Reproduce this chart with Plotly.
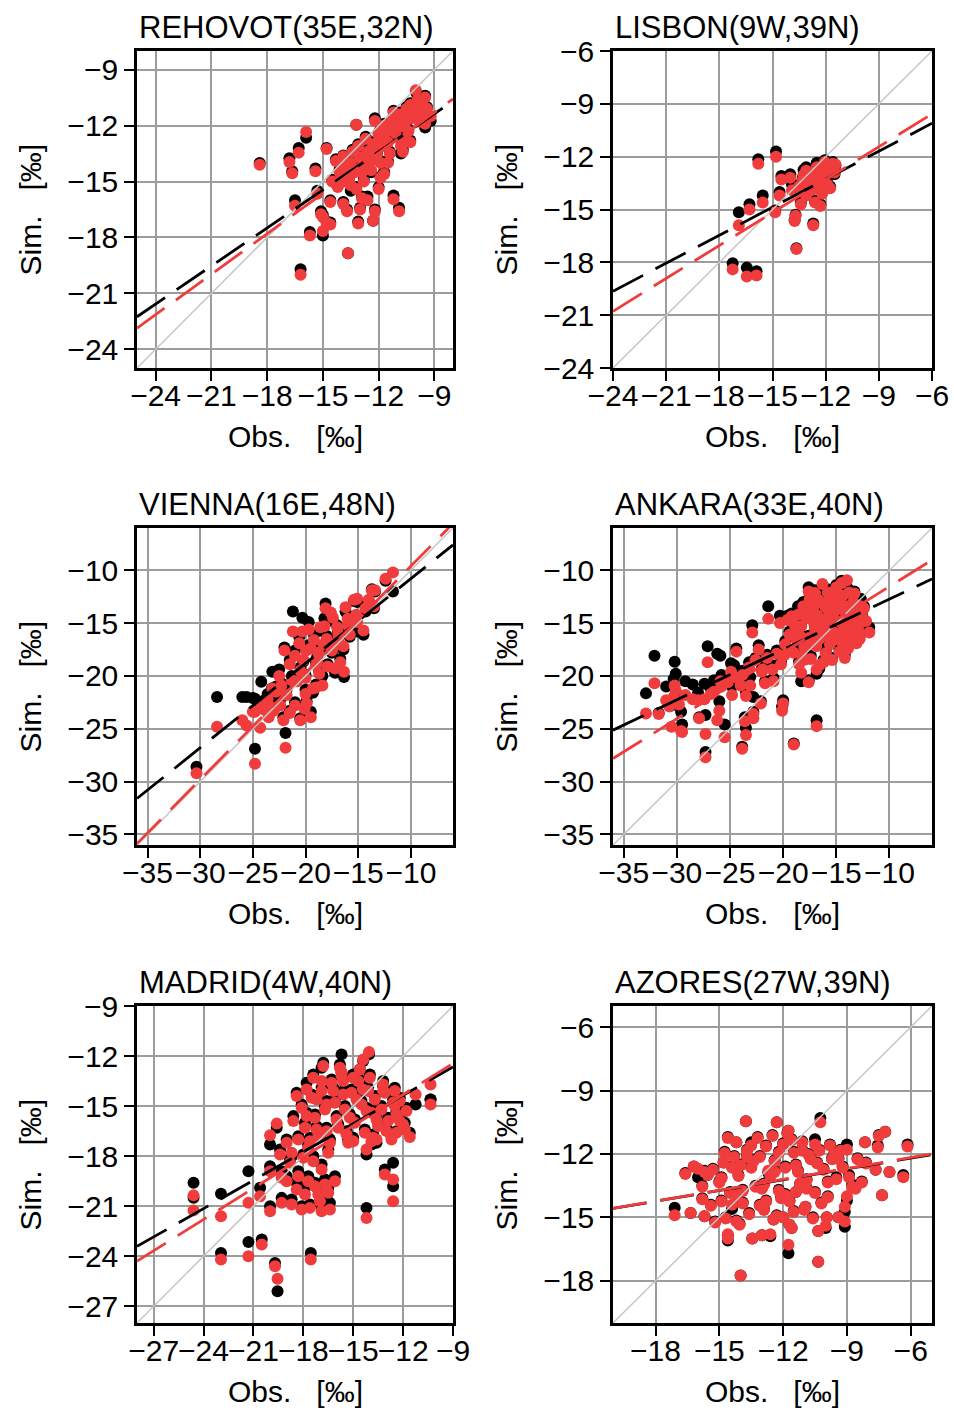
import plotly.graph_objects as go

# ---------------- data (per mille) ----------------
# Observed value and the two simulated values (black, red) for every sample.

rehovot_obs = [
    -18.4, -15.9, -16.3, -16.8, -16.65, -14.8, -15.4, -16.5, -15.7, -15.0,
    -16.2, -13.65, -15.1, -14.8, -13.1, -12.3, -12.2, -13.0, -12.6, -11.2,
    -10.9, -10.8, -10.3, -9.2, -10.0, -13.2, -12.2, -11.9, -13.9, -14.1,
    -15.3, -13.5, -13.9, -15.0, -14.6, -14.5, -14.2, -14.0, -13.8, -13.6,
    -13.5, -13.3, -13.2, -13.0, -12.9, -12.8, -12.6, -12.5, -12.4, -12.3,
    -12.1, -12.0, -11.9, -11.8, -11.6, -11.5, -11.4, -11.3, -11.1, -11.0,
    -10.9, -10.8, -10.6, -10.5, -10.4, -10.3, -10.2, -10.0, -9.9, -9.8,
    -9.7, -9.6, -9.5, -9.4, -9.5, -14.3, -13.4, -12.7, -11.7, -11.2,
    -12.9, -11.7, -10.7, -13.7, -14.6, -12.0,
    -13.9, -13.1, -12.7, -12.2, -11.7, -11.3, -10.9, -10.4, -10.1, -9.8,
    -12.9, -12.4, -11.9, -11.5, -10.6]
rehovot_sim_black = [
    -14.0, -12.65, -13.2, -13.75, -14.45, -13.2, -14.3, -16.0, -17.7, -17.9,
    -19.7, -18.85, -16.6, -17.15, -17.15, -17.1, -16.5, -16.4, -15.8, -15.75,
    -16.4, -13.5, -12.8, -11.75, -10.2, -11.95, -11.6, -14.75, -13.6, -14.35,
    -15.5, -15.5, -16.1, -16.8, -17.2, -14.9, -15.2, -14.6, -14.1, -14.8,
    -13.9, -14.4, -15.3, -13.6, -14.1, -14.9, -13.3, -13.9, -14.5, -12.9,
    -13.5, -12.4, -13.9, -13.0, -12.2, -12.8, -13.4, -11.7, -12.5, -12.0,
    -11.3, -12.7, -11.8, -11.0, -12.2, -10.8, -11.5, -11.0, -10.5, -11.7,
    -10.9, -11.3, -10.4, -11.0, -12.1, -13.8, -13.3, -12.6, -11.9, -11.2,
    -15.8, -14.5, -13.3, -16.5, -16.0, -15.3,
    -14.9, -13.0, -13.8, -12.9, -12.5, -12.1, -11.9, -11.4, -10.9, -10.6,
    -14.4, -13.2, -12.2, -13.9, -12.6]
rehovot_sim_red = [
    -14.1, -12.35, -13.45, -13.95, -14.55, -13.25, -14.45, -16.3, -17.9, -17.65,
    -20.0, -18.85, -16.75, -17.2, -17.25, -17.1, -16.6, -16.5, -16.0, -15.95,
    -16.6, -13.1, -12.9, -11.5, -10.1, -11.95, -11.75, -14.8, -13.65, -14.5,
    -15.65, -15.2, -16.2, -16.9, -17.3, -15.0, -15.3, -14.7, -14.2, -14.9,
    -14.0, -14.5, -15.4, -13.7, -14.2, -15.0, -13.4, -14.0, -14.4, -13.0,
    -13.6, -12.5, -14.0, -13.1, -12.3, -12.9, -13.5, -11.8, -12.4, -12.1,
    -11.4, -12.8, -11.9, -11.1, -12.3, -10.9, -11.6, -11.2, -10.6, -11.8,
    -11.0, -11.4, -10.5, -11.1, -11.9, -13.9, -13.4, -12.7, -12.0, -11.3,
    -15.9, -14.6, -13.4, -16.6, -16.1, -15.4,
    -15.0, -13.1, -13.9, -13.0, -12.6, -12.2, -12.0, -11.5, -11.0, -10.7,
    -14.5, -13.3, -12.3, -14.0, -12.7]

lisbon_obs = [
    -14.8, -15.8, -16.9, -16.3, -15.55, -14.5, -14.6, -14.85, -13.25, -12.5,
    -13.7, -13.75, -12.7, -13.65, -17.25, -16.45, -15.9, -13.5, -13.3, -13.1,
    -13.0, -12.9, -12.8, -12.7, -12.6, -12.5, -12.4, -12.3, -12.2, -12.1,
    -12.0, -11.9, -11.8, -11.75, -11.6, -11.5, -11.45, -12.3, -13.9, -13.4,
    -14.0, -12.05, -13.1]
lisbon_sim_black = [
    -11.7, -12.15, -15.15, -14.7, -14.2, -13.1, -14.0, -15.05, -12.75, -12.35,
    -15.3, -15.6, -15.8, -17.2, -18.05, -18.3, -18.5, -13.6, -13.2, -14.1,
    -13.4, -12.9, -13.8, -13.2, -14.5, -12.9, -13.6, -12.5, -14.0, -13.1,
    -12.4, -13.5, -12.8, -13.7, -12.3, -13.0, -12.5, -14.7, -13.6, -14.6,
    -13.0, -12.2, -12.6]
lisbon_sim_red = [
    -12.0, -12.4, -15.9, -15.0, -14.6, -13.3, -14.2, -15.15, -13.05, -12.6,
    -15.35, -15.65, -15.9, -17.25, -18.4, -18.8, -18.75, -13.7, -13.35, -14.2,
    -13.5, -13.0, -13.9, -13.35, -14.6, -13.0, -13.7, -12.6, -14.1, -13.2,
    -12.5, -13.6, -12.9, -13.8, -12.4, -12.9, -12.45, -14.8, -13.9, -14.7,
    -13.2, -12.3, -12.8]

vienna_obs = [
    -30.35, -28.4, -25.6, -24.8, -23.9, -24.2, -23.15, -24.8, -24.3, -22.0,
    -21.9, -22.1, -21.2, -20.3, -19.95, -19.5, -18.1, -18.2, -17.4, -17.0,
    -16.0, -15.4, -15.1, -14.0, -13.4, -11.7, -13.5, -14.5, -15.1, -16.35,
    -16.7, -18.9, -18.4, -18.8, -19.5, -20.1, -20.8, -20.5, -20.2, -21.8,
    -22.8, -22.3, -21.0, -21.5, -20.5, -19.9, -19.3, -18.7, -17.9, -17.5,
    -17.8, -16.9, -16.4, -15.8, -15.2, -14.3, -13.7, -12.4, -18.6, -19.2,
    -21.5, -22.5, -23.6, -25.0, -26.0, -23.0, -20.0, -19.0, -17.2, -16.9,
    -18.3, -21.0, -20.6, -17.6, -16.2, -19.7, -23.5,
    -21.3, -20.0, -19.0, -18.0, -17.0, -16.0, -22.4, -23.2]
vienna_sim_black = [
    -28.6, -22.0, -22.0, -22.15, -22.3, -20.55, -19.6, -26.9, -22.9, -17.3,
    -25.4, -23.9, -13.9, -14.5, -17.2, -17.0, -13.15, -14.55, -14.8, -15.2,
    -15.5, -12.9, -13.0, -12.9, -12.0, -12.0, -13.6, -16.1, -15.8, -20.1,
    -18.4, -18.2, -20.0, -17.5, -23.4, -22.9, -20.3, -19.2, -18.6, -21.3,
    -21.0, -20.7, -22.5, -23.3, -24.0, -22.4, -21.6, -19.5, -18.9, -17.8,
    -16.6, -16.8, -17.5, -16.3, -14.8, -13.9, -11.8, -11.0, -15.7, -16.1,
    -18.5, -19.4, -21.7, -22.1, -22.0, -22.5, -19.9, -20.8, -19.7, -15.8,
    -17.3, -17.6, -16.3, -14.2, -13.9, -14.9, -23.5,
    -20.0, -21.3, -18.7, -16.2, -16.2, -14.3, -22.2, -21.2]
vienna_sim_red = [
    -29.2, -24.8, -24.7, -23.4, -23.2, -22.9, -21.2, -28.3, -24.9, -17.6,
    -26.8, -24.2, -15.8, -15.8, -17.6, -17.4, -13.6, -15.3, -14.5, -15.4,
    -15.2, -12.8, -12.7, -12.8, -11.9, -10.2, -13.4, -15.7, -14.9, -19.6,
    -18.7, -18.6, -20.9, -17.8, -23.9, -23.1, -20.5, -19.5, -18.5, -21.8,
    -21.5, -20.9, -22.8, -23.5, -24.2, -22.6, -21.2, -19.8, -19.1, -17.6,
    -16.9, -16.6, -17.2, -16.1, -14.2, -13.6, -11.9, -10.8, -15.4, -16.6,
    -18.9, -20.0, -22.2, -23.4, -24.2, -23.3, -20.2, -21.1, -19.3, -16.0,
    -17.0, -18.1, -16.9, -14.0, -13.5, -15.6, -23.9,
    -20.4, -21.7, -19.0, -16.5, -17.0, -14.6, -22.8, -23.0]

ankara_obs = [
    -32.1, -32.9, -30.2, -30.1, -30.3, -31.7, -29.6, -29.8, -30.7, -28.5,
    -27.4, -27.9, -27.3, -27.3, -27.1, -26.2, -25.9, -25.5, -24.9, -23.85,
    -23.5, -23.6, -22.9, -24.4, -23.8, -22.8, -22.8, -22.3, -22.1, -21.4,
    -20.3, -20.0, -20.1, -19.0, -18.6, -17.6, -16.85, -17.6, -18.3, -16.85,
    -11.9, -12.7, -14.0, -13.1, -14.5, -16.7, -14.9, -26.5, -25.8, -25.2,
    -24.6, -24.0, -23.2, -22.6, -22.0, -21.5, -21.0, -20.6, -20.2, -19.8,
    -21.7, -23.5, -26.8, -28.0, -29.2, -31.0, -19.4, -19.0, -18.8, -18.5,
    -18.3, -18.0, -17.8, -17.6, -17.4, -17.2, -17.0, -16.9, -16.7, -16.5,
    -16.4, -16.2, -16.0, -15.9, -15.8, -15.6, -15.5, -15.3, -15.2, -15.0,
    -14.9, -14.7, -14.6, -14.4, -14.3, -14.1, -14.0, -13.8, -13.7, -13.5,
    -13.4, -13.2, -13.1, -12.9, -12.6, -12.4, -12.2, -16.3, -17.5, -18.1,
    -19.6, -18.9, -16.6, -15.4, -14.2, -15.7, -17.1, -14.8, -13.9, -16.1,
    -15.1, -14.5, -13.3, -12.8, -29.5, -30.5,
    -19.2, -18.7, -18.2, -17.7, -17.3, -16.8, -16.3, -15.8, -15.3, -14.8,
    -14.3, -13.8, -13.3, -12.8, -19.9, -18.4, -17.0, -15.6, -14.1, -16.6,
    -15.1, -13.6, -17.9, -16.0, -14.6, -24.8, -23.1, -21.9, -20.9, -26.0]
ankara_sim_black = [
    -18.1, -21.65, -18.65, -19.8, -20.3, -23.5, -23.4, -21.9, -22.4, -20.8,
    -20.75, -23.9, -23.7, -27.2, -17.2, -17.9, -18.1, -24.6, -18.8, -26.7,
    -24.9, -23.9, -15.2, -17.4, -19.5, -22.0, -23.4, -17.1, -22.4, -13.4,
    -14.3, -22.3, -22.9, -26.4, -13.4, -11.6, -19.8, -20.4, -20.5, -24.2,
    -15.4, -12.7, -11.6, -16.8, -16.4, -17.1, -15.8, -20.4, -19.9, -20.3,
    -19.0, -20.6, -18.7, -18.3, -19.3, -18.0, -19.0, -17.6, -18.6, -16.7,
    -20.5, -21.5, -21.2, -21.6, -20.5, -21.0, -15.8, -17.5, -16.2, -18.6,
    -15.0, -17.0, -14.2, -16.2, -18.1, -13.3, -15.3, -17.0, -12.5, -14.4,
    -16.1, -18.5, -13.2, -15.0, -11.8, -16.8, -14.0, -12.7, -15.7, -11.4,
    -13.5, -17.5, -14.7, -12.2, -16.0, -13.2, -15.0, -11.9, -14.0, -16.6,
    -12.8, -14.8, -13.6, -15.6, -14.2, -13.4, -15.0, -11.5, -12.4, -13.0,
    -14.3, -14.8, -19.3, -18.3, -18.0, -13.6, -14.8, -12.1, -17.2, -15.9,
    -14.5, -11.0, -12.0, -16.2, -24.6, -22.8,
    -14.1, -15.6, -17.9, -13.8, -16.7, -14.0, -12.9, -14.6, -16.3, -12.9,
    -15.4, -13.6, -15.8, -14.8, -17.8, -16.0, -11.9, -12.4, -13.8, -15.2,
    -11.9, -15.2, -18.2, -17.6, -15.9, -21.0, -20.1, -18.9, -20.2, -22.4]
ankara_sim_red = [
    -20.7, -23.55, -20.9, -21.4, -22.0, -23.6, -25.2, -22.7, -22.9, -22.2,
    -22.2, -24.0, -25.5, -27.7, -18.7, -24.2, -20.5, -25.8, -19.6, -26.9,
    -25.6, -24.3, -15.9, -17.7, -19.9, -23.6, -24.0, -17.5, -22.6, -14.6,
    -15.0, -22.6, -23.3, -26.5, -14.2, -12.0, -19.4, -20.6, -19.7, -24.75,
    -15.9, -13.4, -10.95, -16.9, -16.8, -16.6, -16.0, -21.5, -21.0, -20.6,
    -20.1, -20.9, -19.2, -18.5, -19.6, -18.3, -19.4, -17.9, -18.9, -17.0,
    -20.7, -21.9, -21.7, -22.3, -21.8, -22.3, -16.1, -17.8, -16.5, -18.9,
    -15.3, -17.3, -14.5, -16.4, -18.4, -13.6, -15.6, -17.2, -12.8, -14.6,
    -16.3, -18.7, -13.5, -15.3, -12.1, -17.0, -14.2, -12.9, -15.9, -11.6,
    -13.7, -17.7, -14.9, -12.4, -16.2, -13.4, -15.2, -12.1, -14.2, -16.8,
    -13.0, -15.0, -13.8, -15.8, -14.4, -13.6, -14.8, -11.3, -12.7, -13.4,
    -14.7, -15.2, -19.0, -18.5, -18.3, -13.9, -15.0, -12.3, -17.4, -16.1,
    -14.7, -11.2, -12.2, -16.5, -25.3, -24.8,
    -14.35, -15.85, -18.15, -14.05, -16.95, -14.25, -13.15, -14.85, -16.55, -13.15,
    -15.65, -13.85, -16.05, -15.05, -18.05, -16.25, -12.15, -12.65, -14.05, -15.45,
    -12.15, -15.45, -18.45, -17.85, -16.15, -21.8, -20.9, -19.4, -20.5, -23.3]

madrid_obs = [
    -24.6, -24.6, -22.95, -22.95, -21.3, -21.3, -20.5, -20.6, -20.0, -20.0,
    -19.7, -19.55, -20.0, -19.6, -19.3, -19.3, -17.55, -16.9, -17.2, -15.7,
    -14.05, -15.6, -13.2, -14.6, -14.2, -12.6, -12.6, -13.1, -11.25, -10.35,
    -10.35, -11.6, -12.4, -12.5, -13.6, -14.2, -16.9, -16.6, -18.6, -18.3,
    -18.1, -17.9, -17.7, -17.5, -17.3, -17.1, -16.9, -16.7, -16.5, -16.3,
    -16.1, -15.9, -15.7, -15.5, -15.3, -15.1, -14.9, -14.7, -14.5, -14.3,
    -14.1, -13.9, -13.7, -13.5, -13.3, -13.1, -12.9, -12.7, -12.4, -12.2,
    -12.0, -15.8, -14.4, -16.6, -17.8, -15.0, -13.9, -19.0, -18.7, -18.4,
    -18.1, -17.9, -17.6, -17.3, -17.0, -16.7, -16.4, -16.9, -18.8, -17.4,
    -16.1, -19.4, -19.0, -18.7, -12.2, -11.8, -11.9,
    -18.4, -17.8, -17.2, -16.6, -16.0, -15.4, -14.8, -14.2, -13.6, -13.0,
    -12.5, -18.0, -17.4, -16.8, -16.2, -15.6, -15.0, -14.4, -13.8, -13.2,
    -12.6, -16.4, -15.2, -14.0, -17.6, -18.3, -17.7, -17.1, -16.5]
madrid_sim_black = [
    -19.6, -20.5, -20.25, -23.8, -18.9, -23.15, -23.0, -19.9, -18.6, -21.0,
    -24.4, -26.1, -17.3, -16.3, -18.9, -20.5, -23.8, -12.7, -14.5, -11.9,
    -11.9, -13.3, -13.8, -12.8, -21.1, -18.4, -19.8, -18.8, -14.9, -14.6,
    -14.6, -16.6, -16.5, -14.8, -17.2, -17.9, -21.0, -20.3, -15.6, -16.8,
    -14.9, -16.0, -17.3, -14.3, -15.5, -16.6, -13.9, -15.0, -17.6, -13.4,
    -14.6, -16.1, -13.0, -15.0, -17.0, -14.0, -15.8, -13.3, -14.7, -16.4,
    -13.9, -15.2, -14.4, -16.0, -15.0, -14.0, -15.7, -16.8, -15.3, -14.5,
    -16.0, -12.5, -12.3, -16.3, -13.6, -16.9, -17.3, -19.2, -20.6, -19.6,
    -21.0, -19.9, -20.9, -19.6, -20.5, -19.4, -20.8, -18.5, -18.2, -18.0,
    -19.2, -17.6, -17.0, -18.0, -15.6, -15.1, -16.0,
    -14.2, -15.4, -16.2, -14.7, -15.6, -16.5, -14.4, -15.1, -15.6, -16.3,
    -13.9, -17.9, -13.1, -12.4, -13.9, -14.1, -13.1, -13.8, -16.7, -13.5,
    -14.6, -17.0, -15.5, -13.1, -16.9, -18.9, -19.2, -20.0, -19.9]
madrid_sim_red = [
    -20.35, -21.25, -21.6, -24.2, -20.8, -24.0, -23.3, -20.4, -18.9, -21.3,
    -24.6, -25.35, -16.75, -16.05, -19.3, -20.8, -24.2, -13.5, -14.6, -13.0,
    -11.75, -13.5, -14.1, -12.8, -21.7, -19.4, -20.7, -19.1, -14.3, -13.7,
    -14.9, -16.85, -16.6, -15.0, -17.0, -17.6, -21.3, -20.0, -15.9, -17.0,
    -15.1, -16.3, -17.5, -14.5, -15.7, -16.8, -14.1, -15.2, -17.8, -13.6,
    -14.8, -16.3, -13.2, -15.2, -17.2, -14.2, -16.0, -13.5, -14.9, -16.6,
    -14.1, -15.4, -14.6, -16.2, -15.2, -14.2, -15.9, -17.0, -15.5, -14.7,
    -16.1, -12.7, -12.2, -16.5, -14.0, -17.1, -17.1, -19.5, -20.9, -20.0,
    -21.2, -20.3, -21.1, -19.8, -20.7, -19.7, -21.2, -18.8, -18.4, -18.3,
    -19.5, -17.9, -17.2, -17.8, -15.9, -15.3, -16.4,
    -14.4, -15.6, -16.4, -14.9, -15.8, -16.7, -14.6, -15.3, -15.8, -16.5,
    -14.1, -18.1, -13.3, -12.6, -14.1, -14.3, -13.3, -14.0, -16.9, -13.7,
    -14.8, -17.2, -15.7, -13.3, -17.1, -19.2, -19.5, -20.3, -20.2]

azores_obs = [
    -13.75, -12.3, -10.25, -11.75, -7.2, -7.5, -8.15, -7.55, -6.15, -14.2,
    -13.5, -14.75, -10.5, -9.0, -9.8, -9.3, -9.6, -16.0, -15.55, -16.2,
    -15.7, -17.1, -16.35, -15.7, -15.2, -14.7, -14.2, -14.05, -14.6, -14.6,
    -14.0, -13.45, -13.0, -12.6, -12.45, -11.7, -11.75, -11.6, -10.95, -10.35,
    -10.35, -10.0, -9.95, -9.1, -9.1, -9.4, -8.75, -7.35, -7.65, -7.0,
    -6.35, -8.1, -12.1, -11.4, -11.2, -15.0, -14.8, -14.5, -14.3, -14.1,
    -13.9, -13.7, -13.5, -13.3, -13.1, -12.9, -12.8, -12.6, -12.4, -12.2,
    -12.0, -11.9, -11.7, -11.5, -11.3, -11.1, -10.9, -10.7, -10.5, -10.3,
    -10.1, -9.9, -9.7, -9.5, -9.2, -8.9, -13.6, -12.3, -14.9, -13.2,
    -11.8, -12.7, -11.0, -10.2, -8.5, -8.3, -15.4, -15.8, -14.4, -12.0,
    -11.5, -13.0, -10.8, -12.5, -14.0, -9.0,
    -15.3, -14.9, -14.4, -13.9, -13.4, -12.9, -12.4, -11.9, -11.4, -10.9,
    -10.4, -9.9, -14.6, -13.1, -11.6, -10.6, -15.8, -16.6, -12.2, -13.7,
    -11.1, -9.4, -8.6, -12.8, -14.2]
azores_sim_black = [
    -10.45, -10.5, -10.3, -10.9, -10.95, -11.1, -11.45, -11.6, -11.55, -11.45,
    -11.45, -11.9, -11.3, -11.55, -11.55, -11.8, -12.0, -13.1, -13.0, -12.6,
    -12.8, -14.55, -14.8, -14.95, -15.2, -15.0, -15.15, -15.3, -16.1, -15.85,
    -17.75, -16.0, -15.85, -15.9, -15.1, -15.35, -16.7, -15.5, -14.5, -17.1,
    -15.65, -15.5, -15.0, -14.75, -15.45, -15.0, -13.45, -13.95, -12.75, -12.85,
    -13.0, -12.4, -14.0, -13.8, -13.4, -13.3, -12.4, -13.8, -12.1, -13.0,
    -14.3, -11.8, -12.6, -13.5, -12.1, -14.6, -11.6, -13.0, -12.3, -13.7,
    -11.5, -12.6, -14.2, -11.9, -12.8, -11.4, -13.2, -12.2, -13.8, -11.8,
    -12.7, -13.3, -12.2, -13.1, -12.6, -13.0, -14.8, -14.9, -14.2, -11.2,
    -11.0, -12.9, -14.6, -14.3, -12.2, -13.3, -14.4, -14.1, -14.6, -15.0,
    -14.7, -13.6, -12.0, -11.1, -12.5, -14.2,
    -12.7, -13.1, -12.6, -13.7, -12.3, -13.4, -12.8, -13.9, -12.5, -13.6,
    -12.4, -14.0, -11.2, -14.4, -11.3, -15.0, -13.5, -12.9, -11.9, -12.1,
    -11.8, -12.2, -13.6, -14.2, -13.9]
azores_sim_red = [
    -10.45, -10.5, -10.5, -10.9, -10.95, -11.15, -11.45, -11.7, -11.65, -11.45,
    -11.6, -11.95, -11.55, -11.8, -11.6, -11.85, -12.05, -12.7, -13.0, -12.6,
    -12.85, -14.9, -14.8, -14.95, -15.25, -15.05, -15.2, -15.35, -16.0, -15.8,
    -17.75, -16.0, -15.85, -15.8, -15.1, -15.35, -16.3, -15.5, -14.5, -17.1,
    -15.65, -15.4, -15.0, -14.5, -15.2, -15.0, -13.55, -13.95, -12.75, -12.85,
    -13.1, -12.45, -14.1, -13.8, -13.4, -13.35, -12.4, -13.85, -12.15, -13.05,
    -14.35, -11.85, -12.65, -13.55, -12.15, -14.65, -11.65, -13.05, -12.35, -13.75,
    -11.55, -12.65, -14.25, -11.95, -12.85, -11.45, -13.25, -12.25, -13.85, -11.85,
    -12.75, -13.35, -12.25, -13.2, -12.65, -13.1, -14.85, -14.95, -14.25, -11.25,
    -11.05, -12.8, -14.65, -14.35, -12.25, -13.35, -14.45, -14.15, -14.4, -15.0,
    -14.75, -13.65, -12.05, -11.15, -12.55, -14.0,
    -12.75, -13.15, -12.65, -13.75, -12.35, -13.45, -12.85, -13.95, -12.55, -13.65,
    -12.45, -14.05, -11.25, -14.45, -11.35, -15.05, -13.55, -12.95, -11.95, -12.15,
    -11.85, -12.25, -13.65, -14.25, -13.95]

# linear fits (slope, intercept) of each simulation against the observations
rehovot_fit_black, rehovot_fit_red = (0.680, -5.25), (0.723, -4.79)
lisbon_fit_black, lisbon_fit_red = (0.530, -6.92), (0.623, -5.83)
vienna_fit_black, vienna_fit_red = (0.800, -2.80), (1.010, 0.49)
ankara_fit_black, ankara_fit_red = (0.477, -7.96), (0.626, -5.275)
madrid_fit_black, madrid_fit_red = (0.566, -7.56), (0.624, -6.82)
azores_fit_black, azores_fit_red = (0.170, -11.18), (0.172, -11.14)

# axis limits and tick values
rehovot_lim, rehovot_ticks = (-25, -8), [-24, -21, -18, -15, -12, -9]
lisbon_lim, lisbon_ticks = (-24, -6), [-24, -21, -18, -15, -12, -9, -6]
vienna_lim, vienna_ticks = (-36, -6), [-35, -30, -25, -20, -15, -10]
ankara_lim, ankara_ticks = (-36, -6), [-35, -30, -25, -20, -15, -10]
madrid_lim, madrid_ticks = (-28, -9), [-27, -24, -21, -18, -15, -12, -9]
azores_lim, azores_ticks = (-20, -5), [-18, -15, -12, -9, -6]

stations = [
    ("REHOVOT(35E,32N)", rehovot_obs, rehovot_sim_black, rehovot_sim_red,
     rehovot_fit_black, rehovot_fit_red, rehovot_lim, rehovot_ticks),
    ("LISBON(9W,39N)", lisbon_obs, lisbon_sim_black, lisbon_sim_red,
     lisbon_fit_black, lisbon_fit_red, lisbon_lim, lisbon_ticks),
    ("VIENNA(16E,48N)", vienna_obs, vienna_sim_black, vienna_sim_red,
     vienna_fit_black, vienna_fit_red, vienna_lim, vienna_ticks),
    ("ANKARA(33E,40N)", ankara_obs, ankara_sim_black, ankara_sim_red,
     ankara_fit_black, ankara_fit_red, ankara_lim, ankara_ticks),
    ("MADRID(4W,40N)", madrid_obs, madrid_sim_black, madrid_sim_red,
     madrid_fit_black, madrid_fit_red, madrid_lim, madrid_ticks),
    ("AZORES(27W,39N)", azores_obs, azores_sim_black, azores_sim_red,
     azores_fit_black, azores_fit_red, azores_lim, azores_ticks),
]

# ---------------- layout geometry (pixels) ----------------
W, H = 954, 1410
COLS = [(137, 453), (613, 932)]
ROWS = [(51, 368), (528, 845), (1006, 1323)]

FONT = "Liberation Sans, Arial, sans-serif"
RED = "#f03c3c"
GRID = "#9c9c9c"
DIAG = "#c6c6c6"
DASH = "34px,14px"
MARKER = 12


def minus(v):
    return ("\u2212%d" % -v) if v < 0 else "%d" % v


fig = go.Figure()
annotations = []
layout_axes = {}

for i, (title, obs, sb, sr, fb, fr, lim, ticks) in enumerate(stations):
    k = i + 1
    xs = "" if k == 1 else str(k)
    x0, x1 = COLS[i % 2]
    y0, y1 = ROWS[i // 2]
    xa, ya = "x" + xs, "y" + xs
    lo, hi = lim

    fig.add_trace(go.Scatter(x=obs, y=sb, mode="markers", xaxis=xa, yaxis=ya,
                             marker=dict(size=MARKER, color="black", line=dict(width=0)),
                             showlegend=False, hoverinfo="skip"))
    fig.add_trace(go.Scatter(x=obs, y=sr, mode="markers", xaxis=xa, yaxis=ya,
                             marker=dict(size=MARKER, color=RED, line=dict(width=0)),
                             showlegend=False, hoverinfo="skip"))
    # 1:1 reference line
    fig.add_trace(go.Scatter(x=[lo, hi], y=[lo, hi], mode="lines", xaxis=xa, yaxis=ya,
                             line=dict(color=DIAG, width=1.5),
                             showlegend=False, hoverinfo="skip"))
    # regression lines
    for (a, b), col in ((fb, "black"), (fr, RED)):
        fig.add_trace(go.Scatter(x=[lo, hi], y=[a * lo + b, a * hi + b], mode="lines",
                                 xaxis=xa, yaxis=ya,
                                 line=dict(color=col, width=2.8, dash=DASH),
                                 showlegend=False, hoverinfo="skip"))

    common = dict(range=[lo, hi], tickvals=ticks, ticktext=[minus(t) for t in ticks],
                  tickangle=0, automargin=False,
                  showgrid=True, gridcolor=GRID, gridwidth=1.5, zeroline=False,
                  showline=True, linecolor="black", linewidth=2.5, mirror=True,
                  ticks="outside", ticklen=10, tickwidth=2, tickcolor="black",
                  tickfont=dict(family=FONT, size=30, color="black"), fixedrange=True)
    layout_axes["xaxis" + xs] = dict(common, domain=[x0 / W, x1 / W], anchor=ya,
                                     ticklabelstandoff=-11)
    layout_axes["yaxis" + xs] = dict(common, domain=[1 - y1 / H, 1 - y0 / H], anchor=xa)

    annotations.append(dict(text=title, x=x0 / W, y=1 - (y0 - 4) / H,
                            xref="paper", yref="paper", xanchor="left", yanchor="bottom",
                            showarrow=False, font=dict(family=FONT, size=31, color="black")))
    annotations.append(dict(text="Obs.\u00a0\u00a0 [\u2030]", x=(x0 + x1) / 2 / W,
                            y=1 - (y1 + 68) / H, xref="paper", yref="paper",
                            xanchor="center", yanchor="middle", showarrow=False,
                            font=dict(family=FONT, size=30, color="black")))
    annotations.append(dict(text="Sim.\u00a0\u00a0 [\u2030]", x=(x0 - 107) / W,
                            y=1 - (y0 + y1) / 2 / H, xref="paper", yref="paper",
                            xanchor="center", yanchor="middle", textangle=-90,
                            showarrow=False, font=dict(family=FONT, size=30, color="black")))

fig.update_layout(width=W, height=H, margin=dict(l=0, r=0, t=0, b=0, autoexpand=False),
                  paper_bgcolor="white", plot_bgcolor="white",
                  annotations=annotations, **layout_axes)

fig.write_html("out.html")
